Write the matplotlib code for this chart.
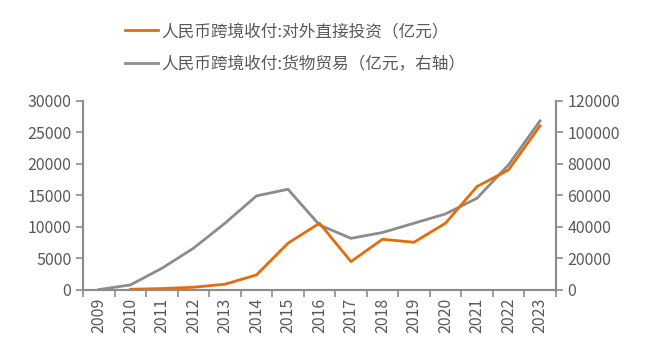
import matplotlib.pyplot as plt
import numpy as np

plt.rcParams['font.family'] = ['Noto Sans CJK SC', 'DejaVu Sans']

years = [str(y) for y in range(2009, 2024)]
# 对外直接投资 (亿元, left axis), no value in 2009
fdi = [np.nan, 50, 160, 370, 850, 2330, 7370, 10550, 4450, 8000, 7520, 10550, 16380, 19020, 26020]
# 货物贸易 (亿元, right axis)
trade = [0, 2970, 13570, 26300, 42200, 59600, 63800, 41100, 32600, 36300, 42200, 48100, 58100, 79300, 107300]

orange = "#E46C0A"
gray = "#8C8C8C"
txt = "#595959"

fig = plt.figure(figsize=(6.5, 3.54), dpi=100)
ax = fig.add_axes([0.128, 0.182, 0.727, 0.533])
ax2 = ax.twinx()

x = np.arange(len(years))
l1, = ax.plot(x, fdi, color=orange, lw=2.0)
l2, = ax2.plot(x, trade, color=gray, lw=2.0)
ax.set_zorder(ax2.get_zorder() + 1)
ax.patch.set_visible(False)

ax.set_xlim(-0.5, len(years) - 0.5)
ax.set_ylim(0, 30000)
ax2.set_ylim(0, 120000)
ax.set_yticks(np.arange(0, 30001, 5000))
ax2.set_yticks(np.arange(0, 120001, 20000))

ax.set_xticks(x)
ax.set_xticklabels(years, rotation=90)
ax.set_xticks(np.arange(-0.5, len(years)), minor=True)
ax.tick_params(axis='x', which='major', length=0, pad=6, labelsize=11.5, labelcolor=txt)
ax.tick_params(axis='x', which='minor', length=5, width=1.2, color=gray)
ax.tick_params(axis='y', length=5, width=1.2, color=gray, labelsize=11.5, labelcolor=txt)
ax2.tick_params(axis='y', length=5, width=1.2, color=gray, labelsize=11.5, labelcolor=txt)

for a in (ax, ax2):
    a.spines['top'].set_visible(False)
    for s in ('left', 'right', 'bottom'):
        a.spines[s].set_color(gray)
        a.spines[s].set_linewidth(1.5)

fig.legend([l1, l2], ["人民币跨境收付:对外直接投资（亿元）", "人民币跨境收付:货物贸易（亿元，右轴）"],
           loc='upper left', bbox_to_anchor=(0.169, 0.977), frameon=False,
           fontsize=12, labelcolor=txt, handlelength=2.0, handletextpad=0.2,
           labelspacing=0.95)

plt.savefig("out.png", dpi=100)
